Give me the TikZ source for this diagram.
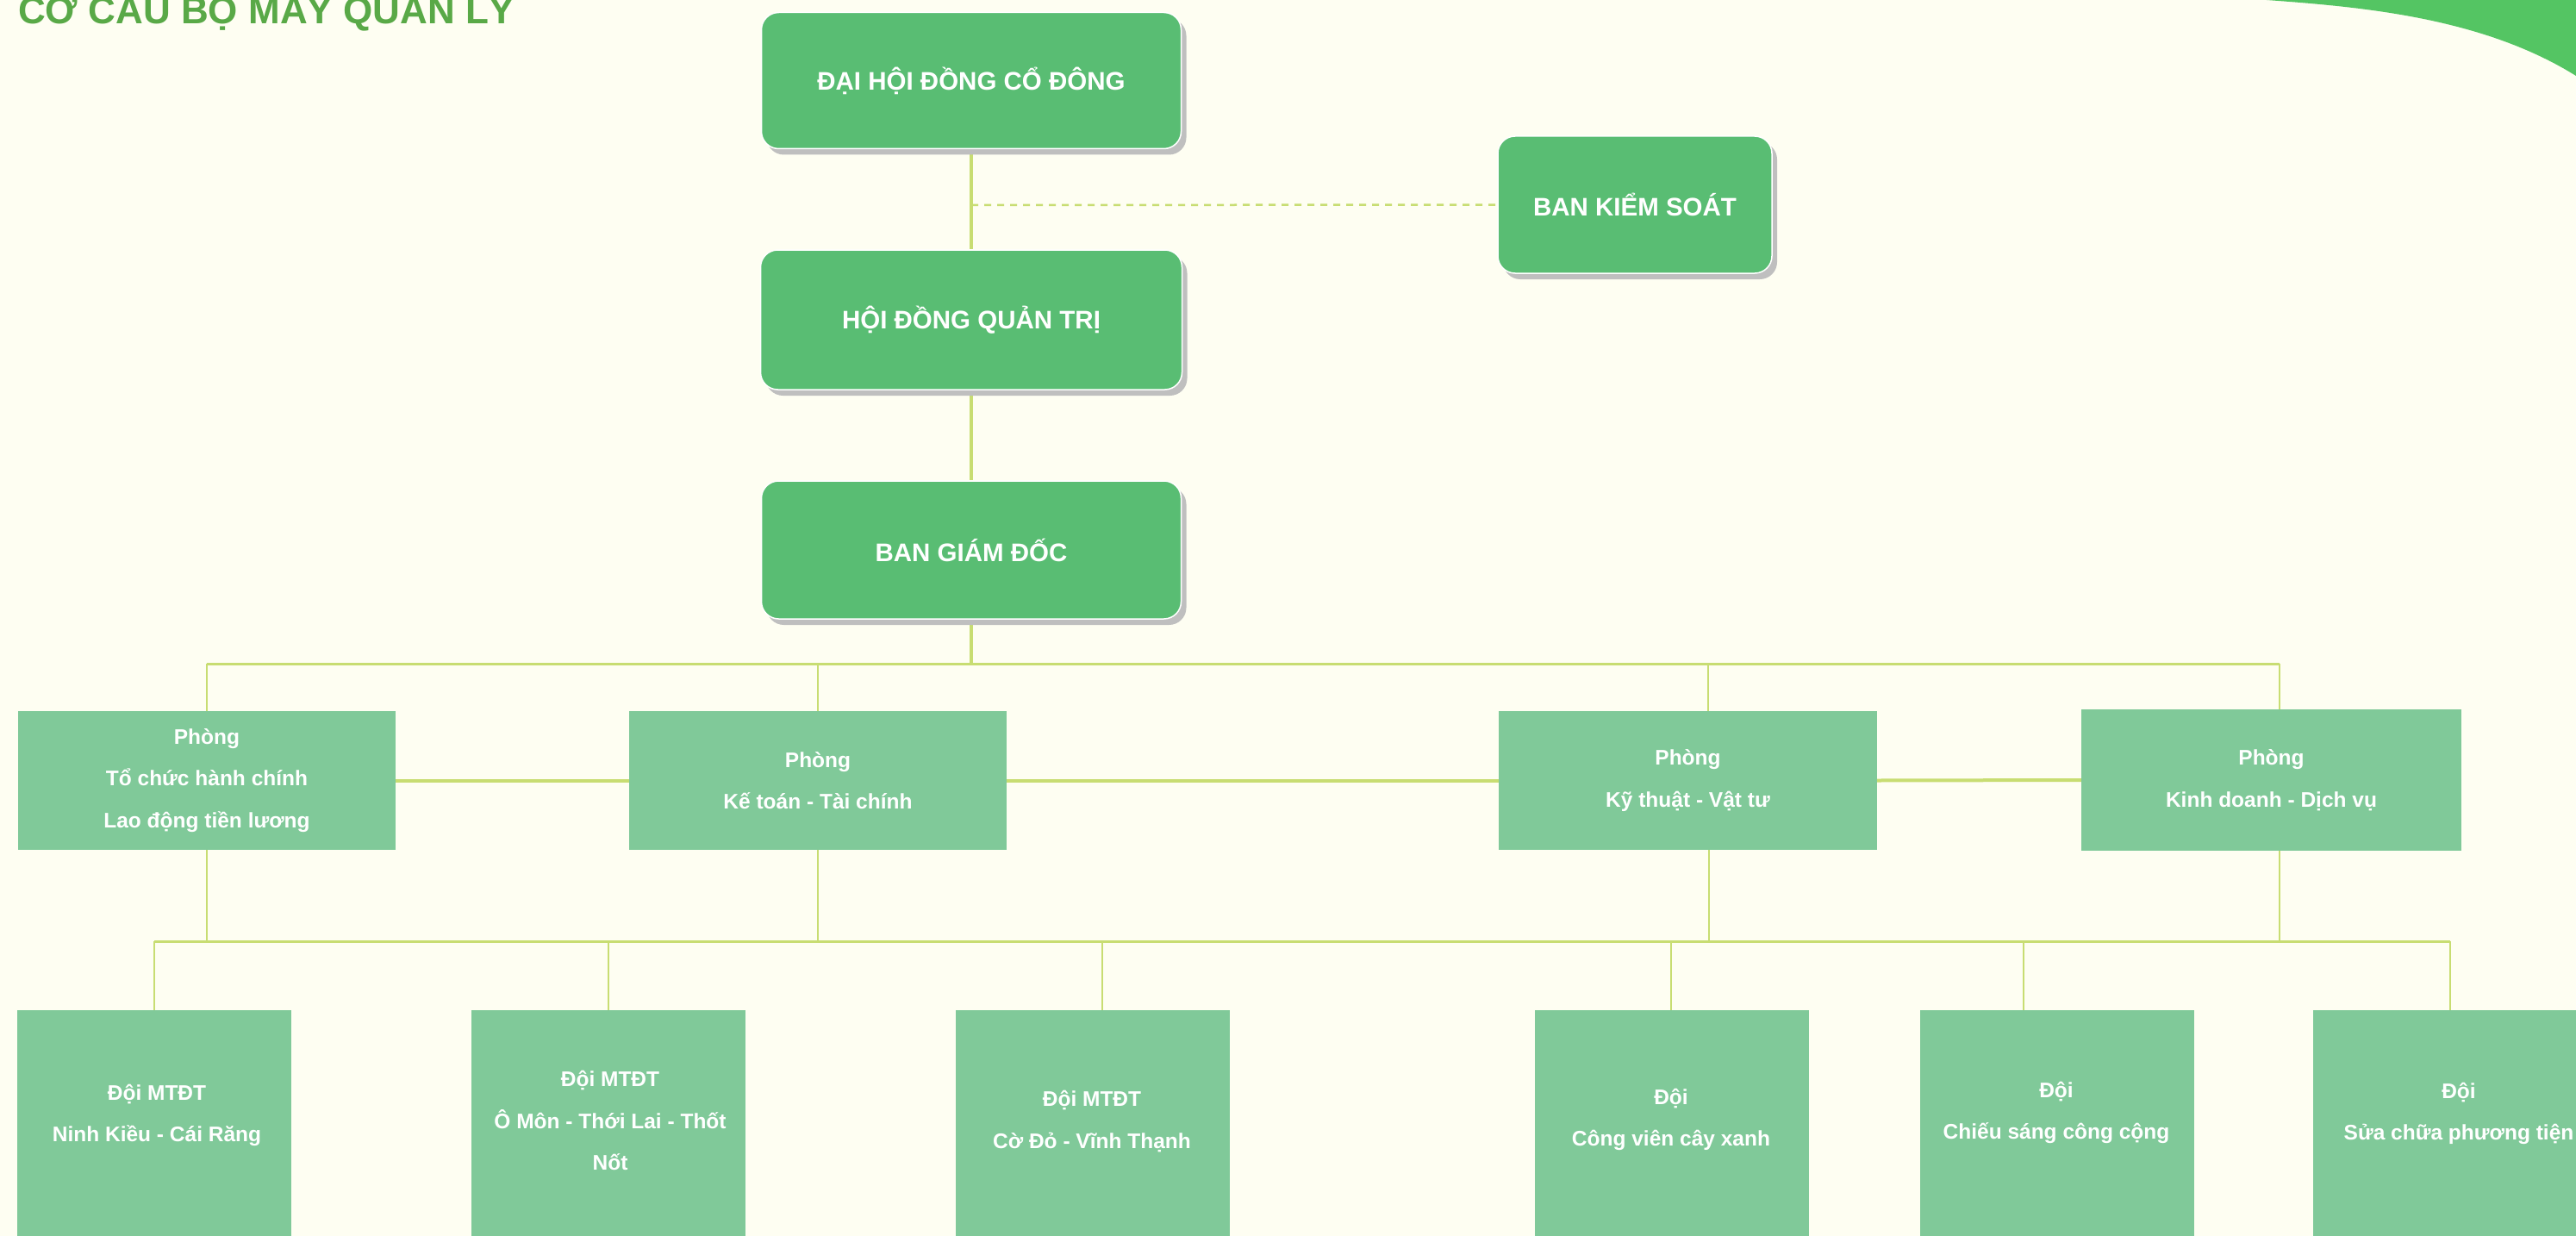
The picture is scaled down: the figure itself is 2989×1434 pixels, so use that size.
\documentclass[tikz,border=0pt]{standalone}
\usepackage{fontspec}
\setmainfont{Liberation Sans}
\usetikzlibrary{shadows,backgrounds}
\definecolor{bg}{HTML}{FEFEF2}
\definecolor{topgreen}{HTML}{59BD73}
\definecolor{lightgreen}{HTML}{80C999}
\definecolor{shadowgray}{HTML}{BFBFBF}
\definecolor{conn}{HTML}{C8DD72}
\definecolor{titlegreen}{HTML}{59A947}
\definecolor{cornergreen}{HTML}{54C563}
\tikzset{
  topbox/.style={rectangle, rounded corners=20pt, fill=topgreen, draw=white, line width=1.5pt,
    minimum width=487pt, minimum height=158pt, inner sep=0pt, text=white,
    font=\fontsize{29.5}{34}\selectfont\bfseries,
    drop shadow={shadow xshift=6pt, shadow yshift=-7pt, fill=shadowgray, opacity=1}},
  deptbox/.style={rectangle, fill=lightgreen, draw=none, minimum width=438pt, minimum height=161pt,
    inner sep=0pt, text=white, align=center, font=\fontsize{24.5}{48.5}\selectfont\bfseries},
  teambox/.style={rectangle, fill=lightgreen, draw=none, minimum width=318pt, minimum height=278pt,
    inner sep=0pt},
  teamtext/.style={text=white, align=center, inner sep=0pt, font=\fontsize{24.5}{48.5}\selectfont\bfseries},
  thickconn/.style={draw=conn, line width=4pt},
  busconn/.style={draw=conn, line width=3pt},
  thinconn/.style={draw=conn, line width=2.5pt},
  topconn/.style={draw=conn, line width=3.5pt},
}
\begin{document}
\begin{tikzpicture}[x=1pt,y=-1pt]
\useasboundingbox (0,0) rectangle (2989,1434);
% title
\node[anchor=base west, inner sep=0pt, text=titlegreen, font=\fontsize{44}{50}\selectfont\bfseries] (title) at (21,28) {CƠ CẤU BỘ MÁY QUẢN LÝ};

% coordinates for connectors
\coordinate (dj) at (1127,238);
\coordinate (bus1) at (1127,770);
\coordinate (j1) at (240,770);
\coordinate (j2) at (949,770);
\coordinate (j3) at (1982,770);
\coordinate (j4) at (2645,770);
\coordinate (k1) at (240,1092);
\coordinate (k2) at (949,1092);
\coordinate (k3) at (1983,1092);
\coordinate (k4) at (2645,1092);
\coordinate (d1) at (179,1092);
\coordinate (d2) at (706,1092);
\coordinate (d3) at (1279,1092);
\coordinate (d4) at (1939,1092);
\coordinate (d5) at (2348,1092);
\coordinate (d6) at (2843,1092);

% top boxes
\node[topbox] (dhdcd) at (1127,93.5) {ĐẠI HỘI ĐỒNG CỔ ĐÔNG};
\node[topbox, minimum width=489pt, minimum height=162pt] (hdqt) at (1127,371) {HỘI ĐỒNG QUẢN TRỊ};
\node[topbox, minimum height=160pt] (bgd) at (1127,638) {BAN GIÁM ĐỐC};
\node[topbox, minimum width=318pt, minimum height=159pt] (bks) at (1897,237.5) {BAN KIỂM SOÁT};

% level 2 boxes
\node[deptbox] (p1) at (240,905.5) {Phòng\\Tổ chức hành chính\\Lao động tiền lương};
\node[deptbox] (p2) at (949,905.5) {Phòng\\Kế toán - Tài chính};
\node[deptbox, minimum width=439pt] (p3) at (1958.5,905.5) {Phòng\\Kỹ thuật - Vật tư};
\node[deptbox, minimum width=441pt, minimum height=164pt] (p4) at (2635.5,905) {Phòng\\Kinh doanh - Dịch vụ};

% level 3 boxes
\node[teambox] (t1) at (179,1311) {};
\node[teambox] (t2) at (706,1311) {};
\node[teambox] (t3) at (1267.5,1311) {};
\node[teambox] (t4) at (1939.5,1311) {};
\node[teambox] (t5) at (2386.5,1311) {};
\node[teambox] (t6) at (2843,1311) {};

\node[teamtext] (tt1) at (182,1294) {Đội MTĐT\\Ninh Kiều - Cái Răng};
\node[teamtext] (tt2) at (708,1300) {Đội MTĐT\\Ô Môn - Thới Lai - Thốt\\Nốt};
\node[teamtext] (tt3) at (1267,1301) {Đội MTĐT\\Cờ Đỏ - Vĩnh Thạnh};
\node[teamtext] (tt4) at (1939,1299) {Đội\\Công viên cây xanh};
\node[teamtext] (tt5) at (2386,1291) {Đội\\Chiếu sáng công cộng};
\node[teamtext] (tt6) at (2853,1292) {Đội\\Sửa chữa phương tiện};

\begin{pgfonlayer}{background}
\fill[bg] (0,0) rectangle (2989,1434);
% corner decoration
\fill[cornergreen] (2630,0) .. controls (2740,8) and (2880,20) .. (2989,88) -- (2989,0) -- cycle;

\draw[topconn] (dhdcd.south) -- (hdqt.north);
\draw[topconn] (hdqt.south) -- (bgd.north);
\draw[topconn] (bgd.south) -- (bus1);
\draw[draw=conn, line width=2.5pt, dash pattern=on 8pt off 7pt] (dj) -- (bks.west);

\draw[busconn] (j1) -- (j4);
\draw[thinconn] (j1) -- (p1.north);
\draw[thinconn] (j2) -- (p2.north);
\draw[thinconn] (j3) -- (j3 |- p3.north);
\draw[thinconn] (j4) -- (j4 |- p4.north);

\draw[thickconn] (p1.east) -- (p2.west);
\draw[thickconn] (p2.east) -- (p3.west);
\draw[thickconn] (p3.east) -- (p4.west);

\draw[thinconn] (p1.south) -- (k1);
\draw[thinconn] (p2.south) -- (k2);
\draw[thinconn] (k3 |- p3.south) -- (k3);
\draw[thinconn] (k4 |- p4.south) -- (k4);
\draw[busconn] (d1) -- (d6);

\draw[thinconn] (d1) -- (t1.north);
\draw[thinconn] (d2) -- (t2.north);
\draw[thinconn] (d3) -- (d3 |- t3.north);
\draw[thinconn] (d4) -- (d4 |- t4.north);
\draw[thinconn] (d5) -- (d5 |- t5.north);
\draw[thinconn] (d6) -- (t6.north);
\end{pgfonlayer}
\end{tikzpicture}
\end{document}
